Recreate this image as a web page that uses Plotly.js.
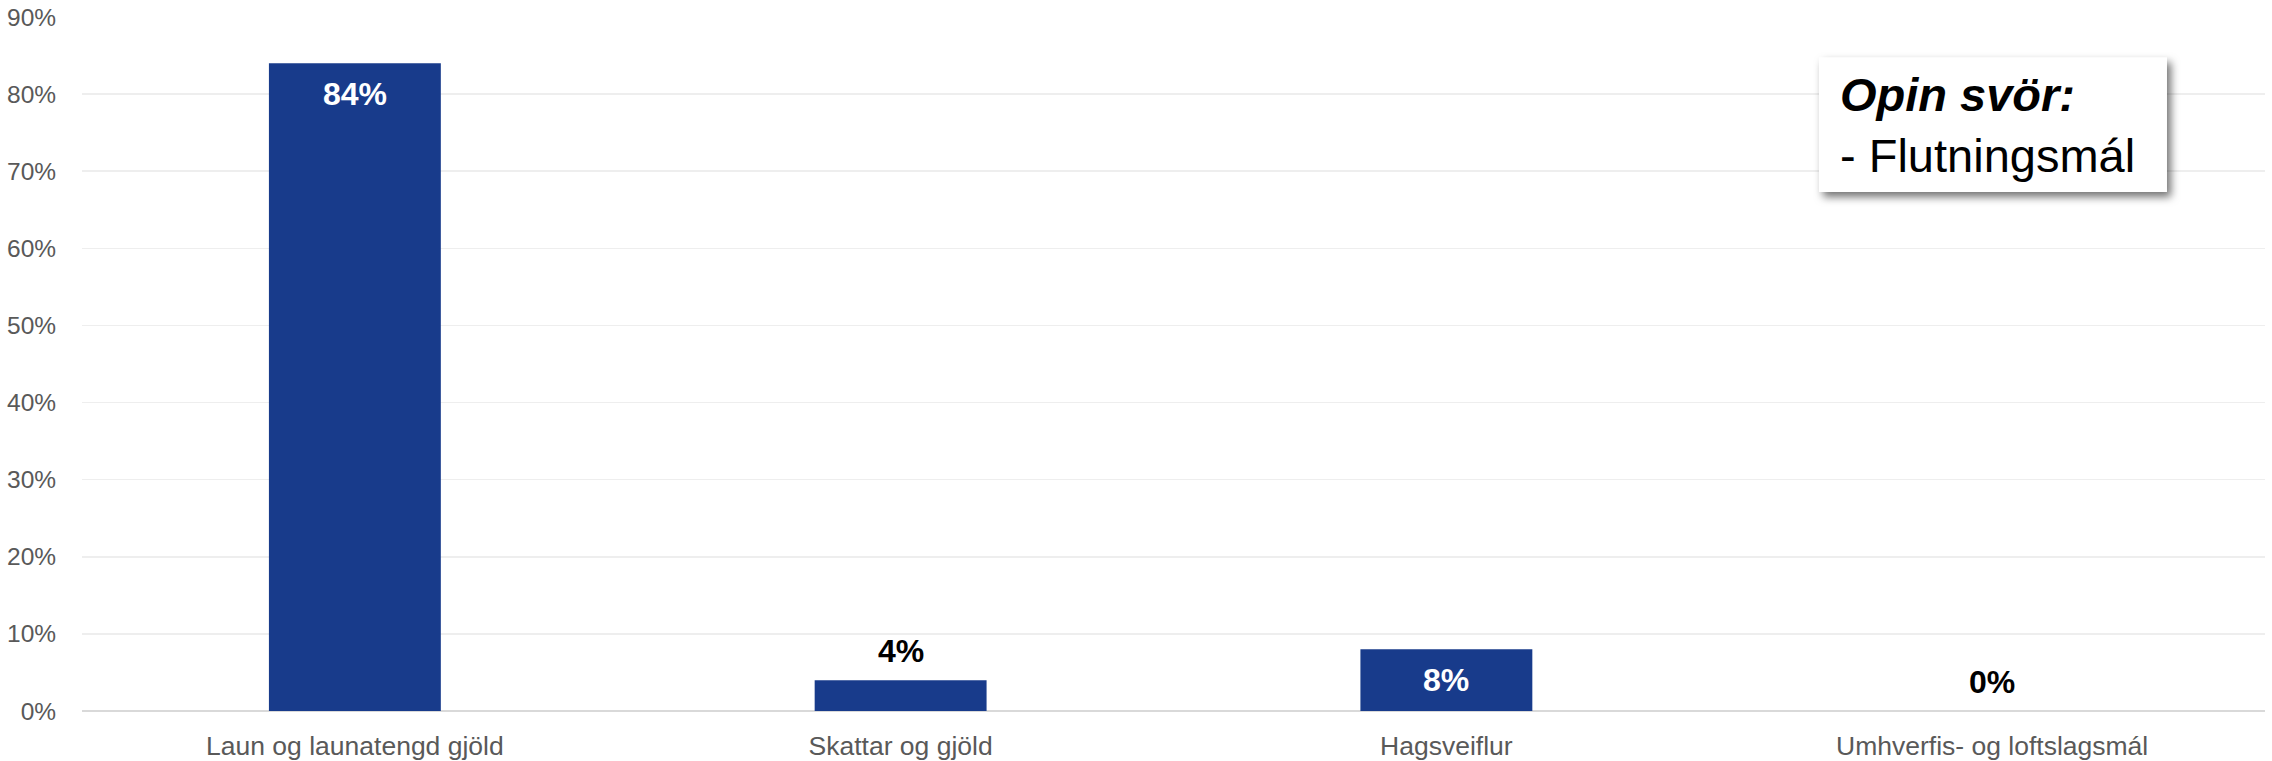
<!DOCTYPE html>
<html>
<head>
<meta charset="utf-8">
<script src="https://cdn.plot.ly/plotly-3.0.1.min.js"></script>
<style>
  html, body { margin: 0; padding: 0; background: #ffffff; }
  #chart { width: 2272px; height: 761px; }
  .shapelayer path { filter: drop-shadow(4px 5px 4px rgba(0,0,0,0.55)); }
</style>
</head>
<body>
<div id="chart"></div>
<script>
const categories = ["Laun og launatengd gjöld", "Skattar og gjöld", "Hagsveiflur", "Umhverfis- og loftslagsmál"];
const values = [84, 4, 8, 0];
const yTickValues = [0, 10, 20, 30, 40, 50, 60, 70, 80, 90];
const yTickLabels = yTickValues.map(v => v + "%");
const boxTitle = "Opin svör:";
const boxLine = "- Flutningsmál";

const FONT = '"Liberation Sans", Arial, sans-serif';
const BAR_COLOR = '#183b8b';

const trace = {
  type: 'bar',
  x: categories,
  y: values,
  marker: { color: BAR_COLOR, line: { width: 0 } },
  hoverinfo: 'skip',
  showlegend: false
};

// Value labels: white inside the bar top when tall, black above when short
const labelAnnotations = categories.map((c, i) => {
  const inside = values[i] >= 6;
  return {
    x: c, y: values[i], xref: 'x', yref: 'y',
    text: '<b>' + values[i] + '%</b>',
    showarrow: false,
    yanchor: inside ? 'top' : 'bottom',
    yshift: inside ? -11 : 9,
    font: { family: FONT, size: 32, color: inside ? '#ffffff' : '#000000' }
  };
});

const layout = {
  width: 2272, height: 761,
  margin: { l: 82, r: 7, t: 17, b: 50, pad: 0 },
  paper_bgcolor: '#ffffff',
  plot_bgcolor: '#ffffff',
  bargap: 0.685,
  font: { family: FONT, color: '#595959' },
  xaxis: {
    type: 'category',
    showgrid: false, showline: false, zeroline: false,
    ticks: 'outside', ticklen: 11, tickcolor: 'rgba(0,0,0,0)',
    tickfont: { family: FONT, size: 26.5, color: '#595959' },
    fixedrange: true
  },
  yaxis: {
    range: [0, 90],
    tickvals: yTickValues,
    ticktext: yTickLabels,
    showgrid: true, gridcolor: '#eeeeee', gridwidth: 1.5,
    zeroline: true, zerolinecolor: '#d9d9d9', zerolinewidth: 2,
    showline: false,
    ticks: 'outside', ticklen: 20, tickcolor: 'rgba(0,0,0,0)',
    tickfont: { family: FONT, size: 24.5, color: '#595959' },
    fixedrange: true
  },
  shapes: [{
    type: 'rect', xref: 'paper', yref: 'paper',
    x0: 0.7957, x1: 0.9551, y0: 0.7477, y1: 0.942,
    fillcolor: '#ffffff', line: { width: 0 }, layer: 'above'
  }],
  annotations: labelAnnotations.concat([{
    xref: 'paper', yref: 'paper',
    x: 0.8045, y: 0.845, xanchor: 'left', yanchor: 'middle',
    align: 'left', showarrow: false,
    text: '<b><i>' + boxTitle + '</i></b><br>' + boxLine,
    font: { family: FONT, size: 47, color: '#000000' }
  }])
};

Plotly.newPlot('chart', [trace], layout, { displayModeBar: false, staticPlot: true });
</script>
</body>
</html>
